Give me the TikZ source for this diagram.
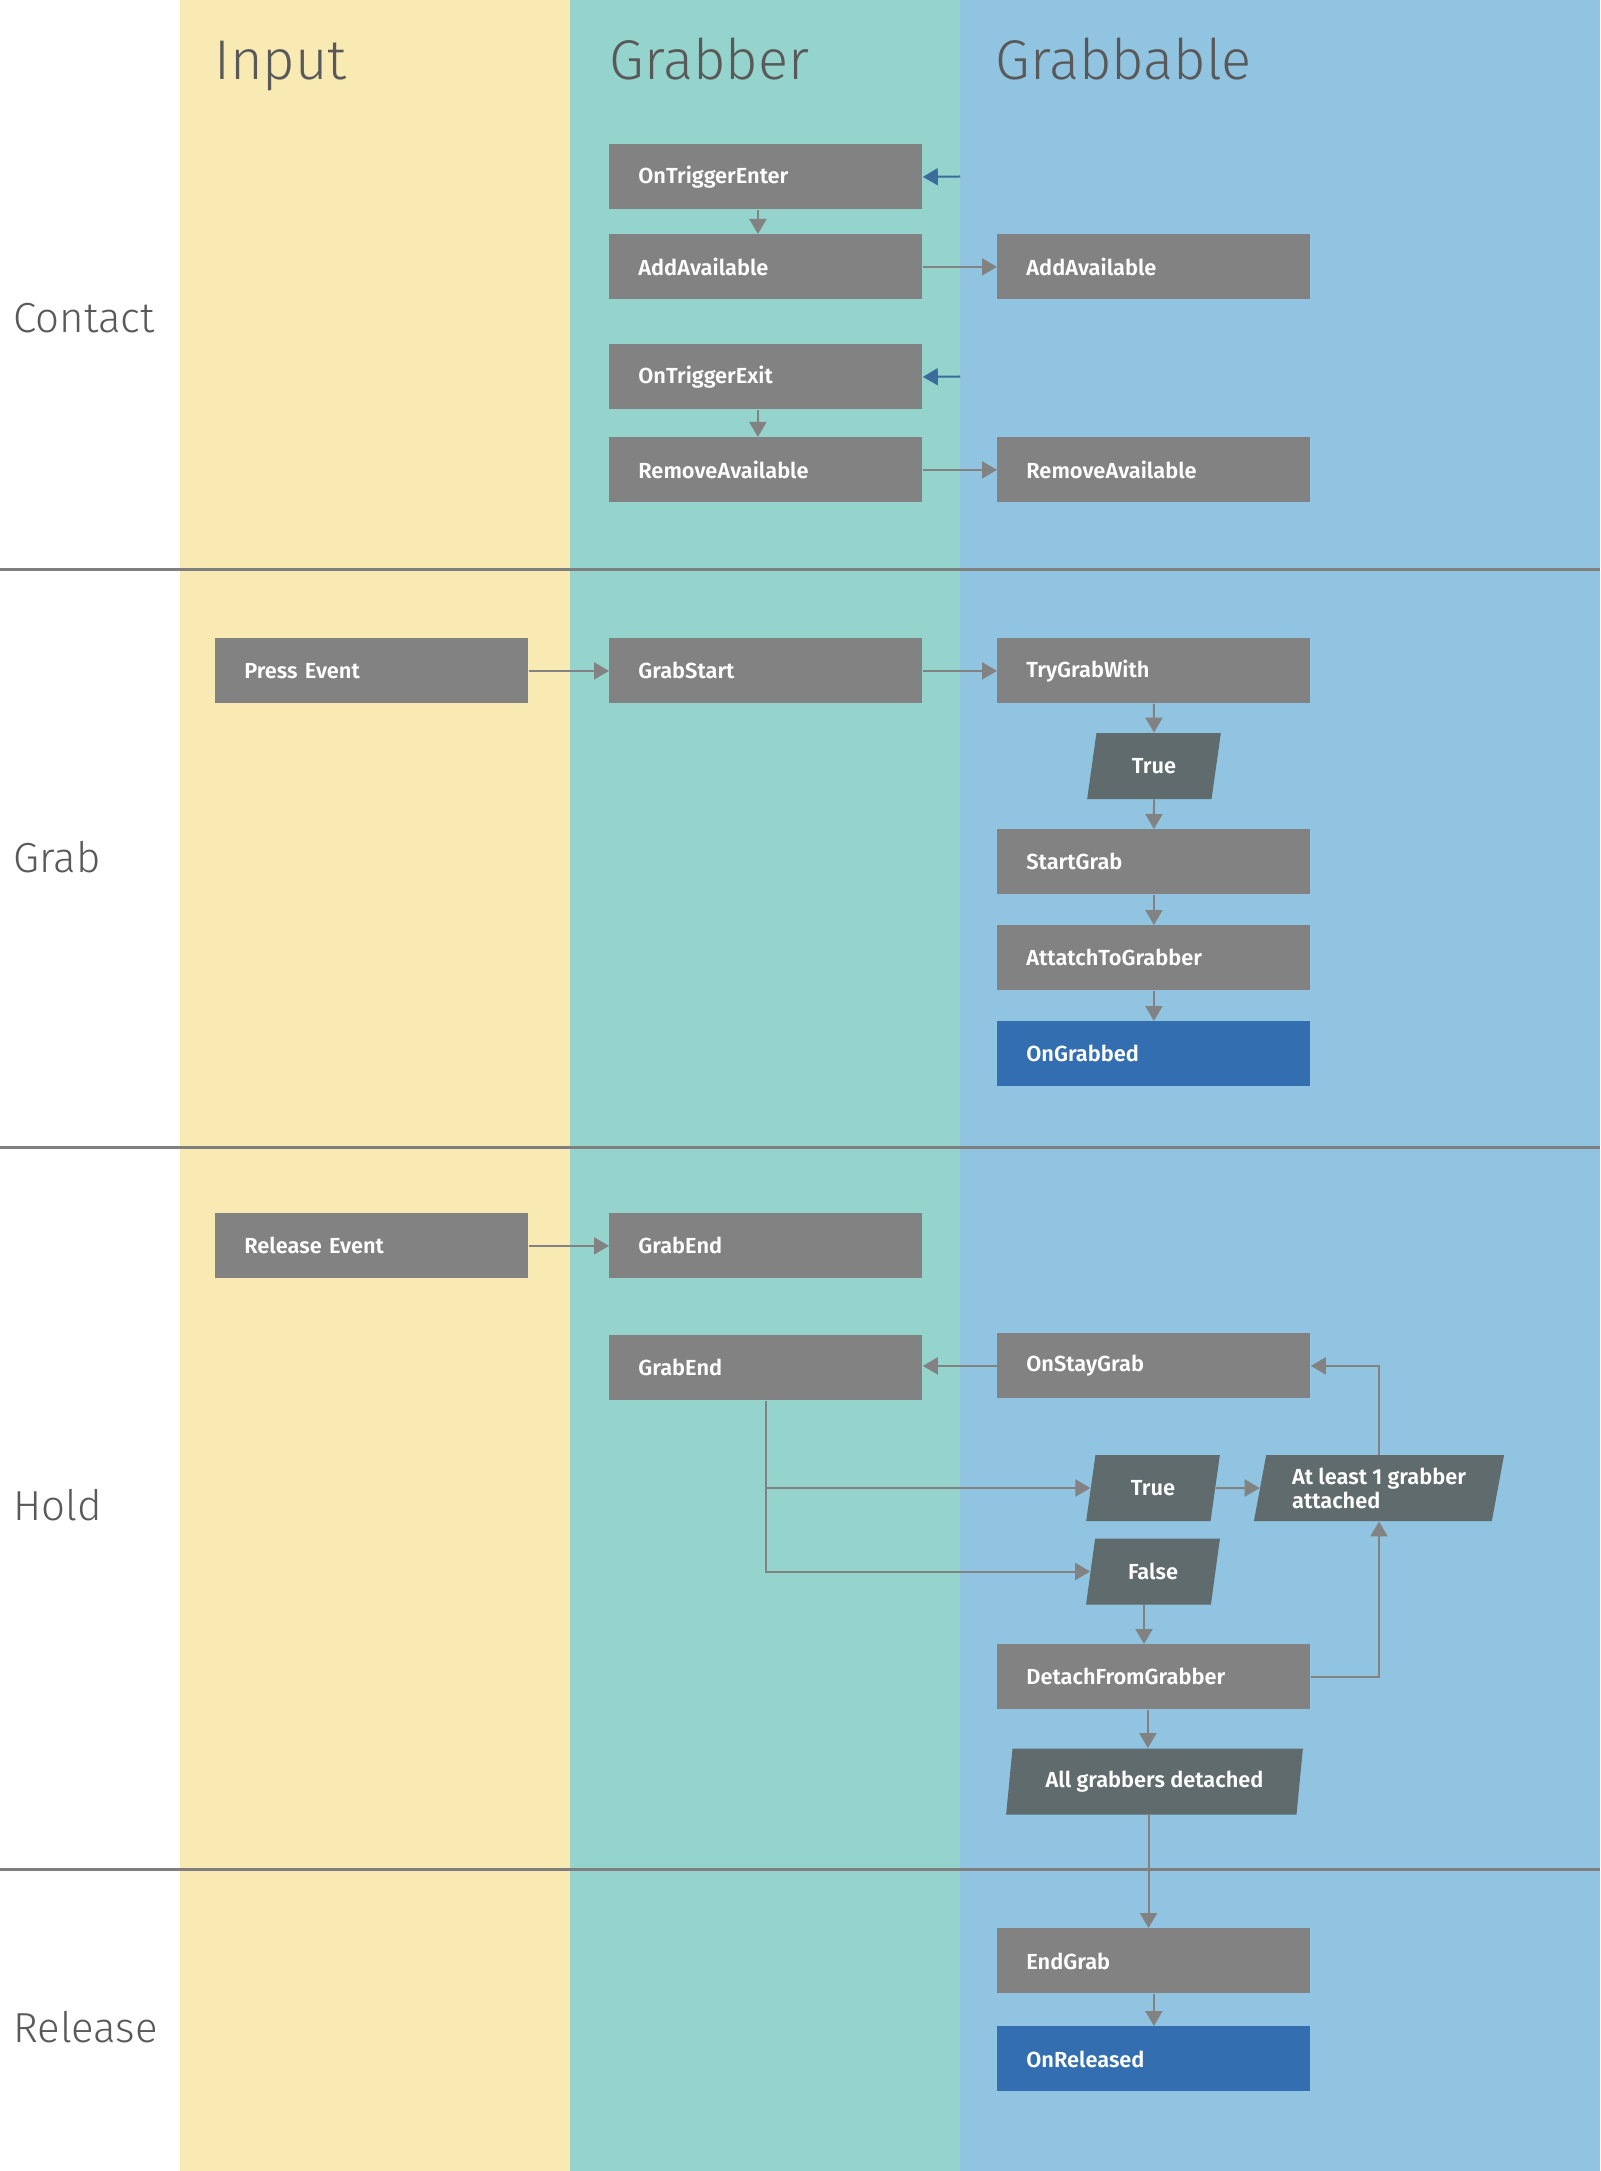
\documentclass[tikz,border=0pt]{standalone}
\usepackage{xcolor}
\usepackage{fontspec}
\setmainfont{Fira Sans}[UprightFont={* Light}, BoldFont={* SemiBold}]
\usepackage{tikz}
\usetikzlibrary{shapes.geometric, arrows.meta, calc}

\definecolor{laneinput}{HTML}{F9EAB3}
\definecolor{lanegrabber}{HTML}{95D4CD}
\definecolor{lanegrabbable}{HTML}{91C4E1}
\definecolor{boxgray}{HTML}{828282}
\definecolor{condgray}{HTML}{5F6B6D}
\definecolor{eventblue}{HTML}{336FB0}
\definecolor{triggerblue}{HTML}{3A6C9C}
\definecolor{titlegray}{HTML}{595959}
\definecolor{sepgray}{HTML}{7F7F7F}

\tikzset{
  box/.style={fill=boxgray, text=white, font=\fontsize{10.9}{12}\selectfont\bfseries,
    anchor=north west, inner xsep=14.5pt, inner ysep=0pt, text width=127.5pt,
    align=left, minimum height=32.5pt},
  eventbox/.style={box, fill=eventblue},
  cond/.style={trapezium, trapezium left angle=77, trapezium right angle=103,
    trapezium stretches=true, fill=condgray, text=white,
    font=\fontsize{10.9}{12}\selectfont\bfseries, inner sep=0pt, align=left,
    minimum height=33pt},
  flow/.style={draw=boxgray, line width=1pt, -{Triangle[length=7.5pt,width=8.5pt]}},
  trigger/.style={draw=triggerblue, line width=1pt, -{Triangle[length=7.5pt,width=8.5pt]}},
  lanetitle/.style={anchor=base west, inner sep=0pt, text=titlegray, font=\fontsize{28}{33}\selectfont},
  rowtitle/.style={anchor=base west, inner sep=0pt, text=titlegray, font=\fontsize{21}{25}\selectfont},
  sepline/.style={draw=sepgray, line width=1.5pt}
}

\begin{document}
\begin{tikzpicture}[x=0.5pt, y=-0.5pt]
\useasboundingbox (0,0) rectangle (1600,2171);

% lanes
\fill[white] (0,0) rectangle (180,2171);
\fill[laneinput] (180,0) rectangle (570,2171);
\fill[lanegrabber] (570,0) rectangle (960,2171);
\fill[lanegrabbable] (960,0) rectangle (1600,2171);
\foreach \y in {570,1147,1869}
  \draw[sepline] (0,\y) -- (1600,\y);

\node[lanetitle] (tinput) at (214,80) {Input};
\node[lanetitle] (tgrabber) at (609,80) {Grabber};
\node[lanetitle] (tgrabbable) at (995,80) {Grabbable};

\node[rowtitle] (rcontact) at (13,333) {Contact};
\node[rowtitle] (rgrab) at (13,872) {Grab};
\node[rowtitle] (rhold) at (13,1520) {Hold};
\node[rowtitle] (rrelease) at (13,2042) {Release};

% contact
\node[box] (enter) at (609,144) {OnTriggerEnter};
\node[box] (addG) at (609,234) {AddAvailable};
\node[box] (exitT) at (609,344) {OnTriggerExit};
\node[box] (remG) at (609,437) {RemoveAvailable};
\node[box] (addB) at (997,234) {AddAvailable};
\node[box] (remB) at (997,437) {RemoveAvailable};
\coordinate (trigA) at (960,176.5);
\coordinate (trigB) at (960,376.5);

\draw[trigger] (trigA) -- (enter.east);
\draw[trigger] (trigB) -- (exitT.east);
\draw[flow] ([xshift=-4pt]enter.south) -- ([xshift=-4pt]addG.north);
\draw[flow] ([xshift=-4pt]exitT.south) -- ([xshift=-4pt]remG.north);
\draw[flow] (addG.east) -- (addB.west);
\draw[flow] (remG.east) -- (remB.west);

% grab
\node[box] (press) at (215,638) {Press Event};
\node[box] (gstart) at (609,638) {GrabStart};
\node[box] (trygrab) at (997,638) {TryGrabWith};
\node[cond, minimum width=67pt] (true1) at (1154,766) {True};
\node[box] (startgrab) at (997,829) {StartGrab};
\node[box] (attach) at (997,925) {AttatchToGrabber};
\node[eventbox] (ongrabbed) at (997,1021) {OnGrabbed};

\draw[flow] (press.east) -- (gstart.west);
\draw[flow] (gstart.east) -- (trygrab.west);
\draw[flow] (trygrab.south) -- (true1.north);
\draw[flow] (true1.south) -- (startgrab.north);
\draw[flow] (startgrab.south) -- (attach.north);
\draw[flow] (attach.south) -- (ongrabbed.north);

% hold
\node[box] (release) at (215,1213) {Release Event};
\node[box] (gend1) at (609,1213) {GrabEnd};
\node[box] (gend2) at (609,1335) {GrabEnd};
\node[box] (onstay) at (997,1333) {OnStayGrab};
\node[cond, minimum width=67pt] (true2) at (1153,1488) {True};
\node[cond, minimum width=67pt] (false2) at (1153,1571.5) {False};
\node[cond, minimum width=126pt] (atleast) at (1379,1488) {At least 1 grabber\\attached};
\node[box] (detach) at (997,1644) {DetachFromGrabber};
\node[cond, minimum width=148.5pt] (allgrab) at (1154.5,1781.5) {All grabbers detached};

\draw[flow] (release.east) -- (gend1.west);
\draw[flow] (onstay.west) -- (onstay.west -| gend2.east);
\draw[flow] (gend2.south) |- (true2.west);
\draw[flow] (gend2.south) |- (false2.west);
\draw[flow] (true2.east) -- (atleast.west);
\draw[flow] (atleast.center |- atleast.north) |- (onstay.east);
\draw[flow] ([xshift=-4.5pt]false2.south) -- ([xshift=-4.5pt]false2.south |- detach.north);
\draw[flow] (detach.east) -| (atleast.center |- atleast.south);
\draw[flow] ([xshift=-3pt]detach.south) -- ([xshift=-3pt]detach.south |- allgrab.north);

% release
\node[box] (endgrab) at (997,1928) {EndGrab};
\node[eventbox] (onreleased) at (997,2026) {OnReleased};

\draw[flow] ([xshift=-3pt]allgrab.south) -- ([xshift=-3pt]allgrab.south |- endgrab.north);
\draw[flow] (endgrab.south) -- (onreleased.north);

\end{tikzpicture}
\end{document}
